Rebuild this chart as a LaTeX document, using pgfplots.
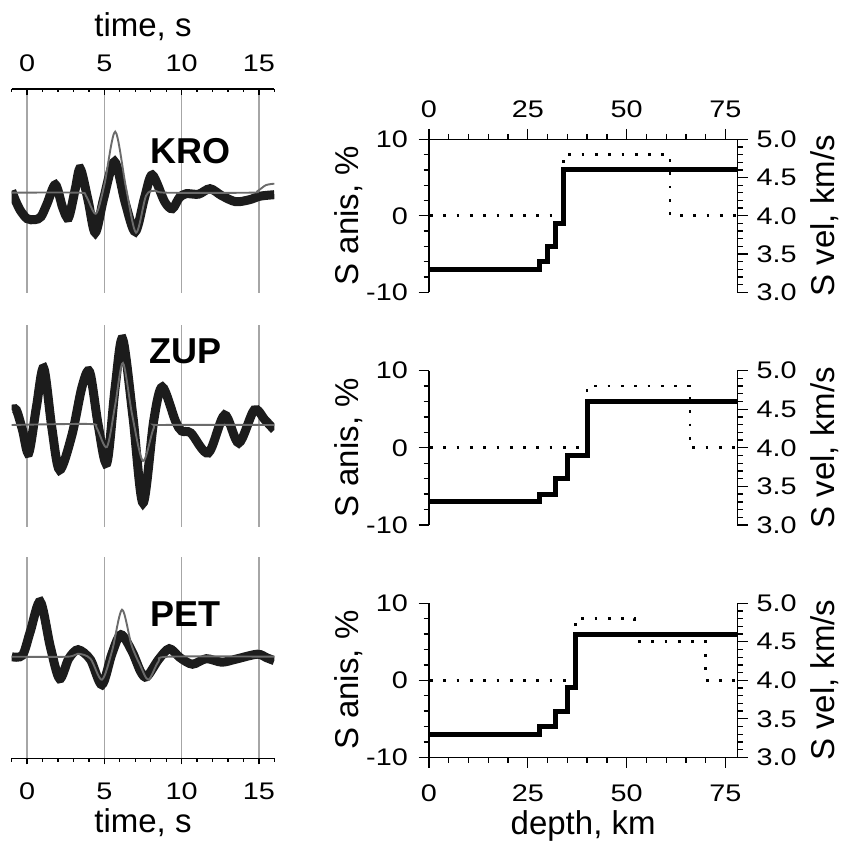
\documentclass[border=0pt]{standalone}
\usepackage{fontspec}
\setmainfont{Liberation Sans}
\newfontfamily\tickfam{Liberation Sans}[FakeStretch=1.2]
\usepackage{pgfplots}
\pgfplotsset{compat=1.18}
\definecolor{obs}{HTML}{1C1C1C}
\definecolor{syn}{HTML}{6B6B6B}
\definecolor{gridc}{HTML}{A6A6A6}
\newcommand{\tickfont}{\tickfam\fontsize{24}{28}\selectfont}
\newcommand{\labfont}{\fontsize{33}{38}\selectfont}
\newcommand{\stafont}{\fontsize{36}{40}\selectfont\bfseries}
\pgfplotsset{
  common/.style={scale only axis, anchor=south west,
     every tick/.style={black, line width=1.3pt},
     axis line style={line width=1.4pt},
     tick label style={font=\tickfont, inner sep=0pt}},
  wave/.style={common, width=262.6pt, xmin=-1, xmax=16,
     xtick={0,5,10,15}, xticklabels={0,5,10,15}, minor xtick={-1,0,...,16},
     xmajorgrids, major grid style={gridc, line width=1.7pt},
     axis y line=none, ytick=\empty,
     major tick length=6pt, minor tick length=3.5pt},
  obsline/.style={obs, line width=9pt, smooth, no marks},
  synline/.style={syn, line width=1.9pt, smooth, no marks},
  prof/.style={common, width=308.3pt, xmin=0, xmax=78, ymin=-10, ymax=10,
     axis y line*=left,
     ytick={-10,0,10}, yticklabels={-10,0,10}, minor ytick={-8,-6,-4,-2,2,4,6,8},
     xtick={0,25,50,75}, xticklabels={0,25,50,75}, minor xtick={5,10,15,20,30,35,40,45,55,60,65,70},
     tick align=outside, major tick length=10.5pt, minor tick length=5.5pt,
     yticklabel style={anchor=east, xshift=-10.5pt},
     ylabel={S anis, \%},
     every axis y label/.style={at={(axis description cs:-0.2283,0.5)}, rotate=90, anchor=base, font=\labfont, inner sep=0pt}},
  vel/.style={common, width=308.3pt, xmin=0, xmax=78, ymin=3, ymax=5,
     axis y line*=right, axis x line=none, xtick=\empty,
     ytick={3,3.5,4,4.5,5}, yticklabels={3.0,3.5,4.0,4.5,5.0},
     minor ytick={3.1,3.2,3.3,3.4,3.6,3.7,3.8,3.9,4.1,4.2,4.3,4.4,4.6,4.7,4.8,4.9},
     tick align=outside, major tick length=10.5pt, minor tick length=5.5pt,
     yticklabel style={anchor=west, xshift=8.5pt},
     ylabel={S vel, km/s},
     every axis y label/.style={at={(axis description cs:1.3137,0.5)}, rotate=90, anchor=base, font=\labfont, inner sep=0pt}},
  dotl/.style={black, line width=2.7pt, dash pattern=on 2.7pt off 10.6pt, dash phase=12.3pt},
  solidl/.style={black, line width=5pt},
}
\begin{document}
\begin{tikzpicture}
\path[use as bounding box] (0pt,0pt) rectangle (842pt,848pt);

% ---------------- KRO waveform ----------------
\begin{axis}[wave, at={(11.7pt,555pt)}, height=204pt, ymin=-100.3, ymax=103.7,
   axis x line*=top, tick align=inside,
   xticklabel style={anchor=south, yshift=17pt},
   xlabel={time, s},
   every axis x label/.style={at={(axis description cs:0.5,1.2549)}, anchor=base, font=\labfont, inner sep=0pt}]
\addplot[obsline] coordinates {(-1,2) (-0.75,-8) (-0.43,-18) (0,-26) (0.5,-27) (0.9,-24) (1.29,-11) (1.83,8) (2.3,-15) (2.68,-25) (3.12,4) (3.44,24) (3.95,-8) (4.41,-40) (4.95,-6) (5.66,31) (6.35,-10) (7.0,-39) (7.6,-5) (8.1,17.7) (8.9,-9) (9.4,-16) (9.85,-5) (10.3,-1) (11.1,-1.5) (11.84,4) (12.6,-3) (13.5,-9) (14.4,-7) (15.07,-3.5) (16,-2)};
\addplot[synline] coordinates {(-1,0) (3.3,0) (3.8,-3) (4.45,-21) (5.0,8) (5.7,61) (6.4,5) (7.05,-40) (7.7,-3) (8.3,2) (9.0,0) (14.4,0) (14.9,1.5) (15.45,7.5) (16,9)};
\node[anchor=west, inner sep=0pt, font=\stafont] at (axis cs:7.98,41.5) {KRO};
\end{axis}

% ---------------- ZUP waveform ----------------
\begin{axis}[wave, at={(11.7pt,321pt)}, height=202pt, ymin=-102, ymax=100,
   axis x line*=bottom, x axis line style={draw=none}, xticklabels={},
   major tick length=0pt, minor tick length=0pt]
\addplot[obsline] coordinates {(-1,15) (-0.7,15) (-0.3,-5) (0.1,-28) (0.6,18) (1.07,57) (1.6,-3) (2.1,-45) (2.9,-10) (3.55,38) (4.05,53) (4.6,0) (5.16,-38) (5.7,38) (6.18,86) (6.85,8) (7.5,-78) (8.2,5) (8.75,38) (9.6,4) (10.0,-6) (10.6,-8) (11.73,-28) (12.78,10) (13.7,-18) (14.7,15) (15.4,5) (16,-5)};
\addplot[synline] coordinates {(-1,0) (4.0,1) (4.5,-3) (5.16,-22) (5.7,20) (6.2,62) (6.8,10) (7.5,-36) (8.2,-3) (8.8,0) (16,0)};
\node[anchor=west, inner sep=0pt, font=\stafont] at (axis cs:7.92,74.2) {ZUP};
\end{axis}

% ---------------- PET waveform ----------------
\begin{axis}[wave, at={(11.7pt,89.7pt)}, height=201.3pt, ymin=-101.6, ymax=99.7,
   axis x line*=bottom, tick align=outside,
   xticklabel style={anchor=north, yshift=-18.7pt},
   xlabel={time, s},
   every axis x label/.style={at={(axis description cs:0.5,-0.371)}, anchor=base, font=\labfont, inner sep=0pt}]
\addplot[obsline] coordinates {(-1,0) (-0.3,1.5) (0.2,25) (0.85,55) (1.5,10) (2.1,-22) (2.69,-2) (3.3,7) (4.1,-3) (4.84,-28) (5.49,3) (6.07,22) (6.8,5) (7.35,-15) (7.75,-20) (8.5,-3) (9.2,8) (9.9,-1) (10.7,-7.5) (11.6,-2) (12.6,-5.5) (13.5,-2.5) (14.9,2.5) (15.5,-1) (16,-4)};
\addplot[synline] coordinates {(-1,0) (2.6,0) (3.3,3) (4.1,-2) (4.84,-23) (5.5,6) (6.14,47) (6.75,12) (7.3,-8) (7.85,-23) (8.5,-5) (9.2,0) (16,0)};
\node[anchor=west, inner sep=0pt, font=\stafont] at (axis cs:7.98,42.5) {PET};
\end{axis}

% ---------------- KRO profile ----------------
\begin{axis}[prof, at={(429pt,555.7pt)}, height=153pt,
   axis x line*=top, xticklabel style={anchor=south, yshift=10.8pt}]
\addplot[dotl] coordinates {(0,0) (34,0) (34,8) (61,8) (61,0) (78,0)};
\addplot[solidl] coordinates {(0,-7) (28,-7) (28,-6) (30,-6) (30,-4) (32,-4) (32,-1) (34,-1) (34,6) (78,6)};
\end{axis}
\begin{axis}[vel, at={(429pt,555.7pt)}, height=153pt]
\end{axis}

% ---------------- ZUP profile ----------------
\begin{axis}[prof, at={(429pt,323pt)}, height=154.3pt,
   axis x line*=bottom, x axis line style={draw=none}, xtick=\empty, minor xtick={}]
\addplot[dotl] coordinates {(0,0) (40,0) (40,8) (66,8) (66,0) (78,0)};
\addplot[solidl] coordinates {(0,-7) (28,-7) (28,-6) (32,-6) (32,-4) (35,-4) (35,-1) (40,-1) (40,6) (78,6)};
\end{axis}
\begin{axis}[vel, at={(429pt,323pt)}, height=154.3pt]
\end{axis}

% ---------------- PET profile ----------------
\begin{axis}[prof, at={(429pt,90.7pt)}, height=154pt,
   axis x line*=bottom, xticklabel style={anchor=north, yshift=-17.2pt},
   xlabel={depth, km},
   every axis x label/.style={at={(axis description cs:0.5,-0.5045)}, anchor=base, font=\labfont, inner sep=0pt}]
\addplot[dotl] coordinates {(0,0) (37,0) (37,8) (52,8) (52,5) (70,5) (70,0) (78,0)};
\addplot[solidl] coordinates {(0,-7) (28,-7) (28,-6) (32,-6) (32,-4) (35,-4) (35,-1) (37,-1) (37,6) (78,6)};
\end{axis}
\begin{axis}[vel, at={(429pt,90.7pt)}, height=154pt]
\end{axis}
\end{tikzpicture}
\end{document}
